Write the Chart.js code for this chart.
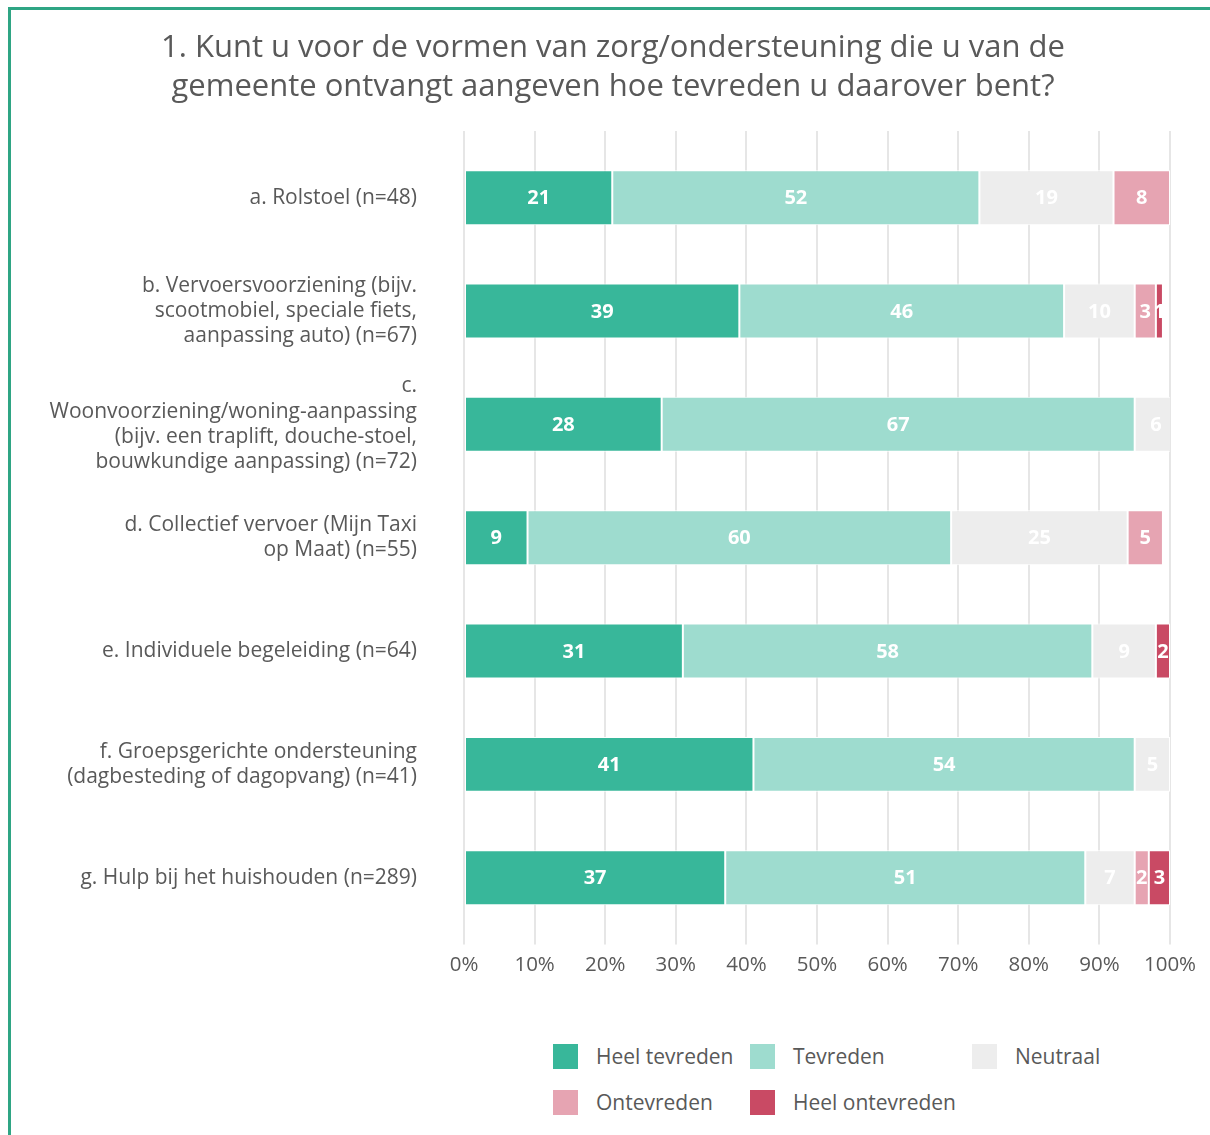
<!DOCTYPE html>
<html lang="nl">
<head>
<meta charset="utf-8">
<title>Tevredenheid zorg/ondersteuning</title>
<script src="https://cdn.jsdelivr.net/npm/chart.js@4.4.1/dist/chart.umd.min.js"></script>
<style>
    body { margin: 0; background: #ffffff; font-family: "Open Sans", sans-serif; overflow: hidden; }
    .frame {
        position: absolute; left: 8px; top: 7px; width: 1300px; height: 1300px;
        border: 3px solid #2fa584; pointer-events: none;
    }
    .title {
        position: absolute; left: 113px; top: 26px; width: 1000px;
        text-align: center; font-size: 31px; line-height: 39px; color: #595959;
    }
    #chart-wrap { position: absolute; left: 0; top: 0; width: 1210px; height: 1000px; }
    .legend {
        position: absolute; left: 553px; top: 1033px;
        display: grid; grid-template-columns: 197px 222px 200px; grid-auto-rows: 46px;
        font-size: 21px; color: #595959;
    }
    .legend-item { display: flex; align-items: center; }
    .legend-box { width: 25px; height: 25px; margin-right: 18px; flex: none; }
</style>
</head>
<body>
<div id="chart-wrap"><canvas id="chart"></canvas></div>
<div class="title">1. Kunt u voor de vormen van zorg/ondersteuning die u van de<br>gemeente ontvangt aangeven hoe tevreden u daarover bent?</div>
<div class="legend" id="legend"></div>
<div class="frame"></div>
<script>
    // Categories (multi-line labels) and answers per category, in percent
    const categories = [
        ['a. Rolstoel (n=48)'],
        ['b. Vervoersvoorziening (bijv.', 'scootmobiel, speciale fiets,', 'aanpassing auto) (n=67)'],
        ['c.', 'Woonvoorziening/woning-aanpassing', '(bijv. een traplift, douche-stoel,', 'bouwkundige aanpassing) (n=72)'],
        ['d. Collectief vervoer (Mijn Taxi', 'op Maat) (n=55)'],
        ['e. Individuele begeleiding (n=64)'],
        ['f. Groepsgerichte ondersteuning', '(dagbesteding of dagopvang) (n=41)'],
        ['g. Hulp bij het huishouden (n=289)']
    ];
    const seriesNames = ['Heel tevreden', 'Tevreden', 'Neutraal', 'Ontevreden', 'Heel ontevreden'];
    const heelTevreden   = [21, 39, 28, 9, 31, 41, 37];
    const tevreden       = [52, 46, 67, 60, 58, 54, 51];
    const neutraal       = [19, 10, 6, 25, 9, 5, 7];
    const ontevreden     = [8, 3, 0, 5, 0, 0, 2];
    const heelOntevreden = [0, 1, 0, 0, 2, 0, 3];
    const xTicks = [0, 10, 20, 30, 40, 50, 60, 70, 80, 90, 100];

    const colors = ['#38b79a', '#9edccf', '#ededed', '#e6a4b2', '#c94a64'];
    const textGray = '#595959';
    const gridGray = '#e6e6e6';
    const fontFamily = '"Open Sans", sans-serif';

    const seriesValues = [heelTevreden, tevreden, neutraal, ontevreden, heelOntevreden];

    // Value labels in the middle of each segment
    const segmentLabels = {
        id: 'segmentLabels',
        afterDatasetsDraw(chart) {
            const ctx = chart.ctx;
            ctx.save();
            ctx.font = 'bold 20px ' + fontFamily;
            ctx.fillStyle = '#ffffff';
            ctx.textAlign = 'center';
            ctx.textBaseline = 'middle';
            chart.data.datasets.forEach((ds, i) => {
                const meta = chart.getDatasetMeta(i);
                meta.data.forEach((bar, j) => {
                    const v = ds.data[j];
                    if (!v) return;
                    ctx.fillText(String(v), (bar.x + bar.base) / 2, bar.y + 1);
                });
            });
            ctx.restore();
        }
    };

    const ctx = document.getElementById('chart').getContext('2d');
    new Chart(ctx, {
        type: 'bar',
        data: {
            labels: categories,
            datasets: seriesNames.map((name, i) => ({
                label: name,
                data: seriesValues[i],
                backgroundColor: colors[i],
                borderColor: '#ffffff',
                borderWidth: 1,
                borderSkipped: false,
                barPercentage: 0.485,
                categoryPercentage: 1
            }))
        },
        options: {
            indexAxis: 'y',
            responsive: true,
            maintainAspectRatio: false,
            animation: false,
            layout: { padding: { left: 0, right: 40, top: 131, bottom: 15 } },
            plugins: {
                legend: { display: false },
                tooltip: { enabled: false }
            },
            scales: {
                x: {
                    stacked: true,
                    min: 0,
                    max: 100,
                    afterBuildTicks: (scale) => { scale.ticks = xTicks.map(v => ({ value: v })); },
                    grid: { color: gridGray, lineWidth: 2, tickLength: 10 },
                    border: { display: false },
                    ticks: {
                        color: textGray,
                        padding: 8,
                        font: { family: fontFamily, size: 20.5 },
                        callback: (v) => v + '%'
                    }
                },
                x2: {
                    position: 'top',
                    min: 0,
                    max: 100,
                    afterBuildTicks: (scale) => { scale.ticks = xTicks.map(v => ({ value: v })); },
                    grid: { color: gridGray, lineWidth: 2, tickLength: 10, drawOnChartArea: false },
                    border: { display: false },
                    ticks: { display: false }
                },
                y: {
                    stacked: true,
                    grid: { display: false, drawTicks: false },
                    border: { display: false },
                    afterFit: (scale) => { scale.width = 464; },
                    ticks: {
                        color: textGray,
                        padding: 47,
                        font: { family: fontFamily, size: 21, lineHeight: 1.21 }
                    }
                }
            }
        },
        plugins: [segmentLabels]
    });

    // Legend in three columns
    const legend = document.getElementById('legend');
    seriesNames.forEach((name, i) => {
        const item = document.createElement('div');
        item.className = 'legend-item';
        item.innerHTML = `<span class="legend-box" style="background:${colors[i]}"></span><span>${name}</span>`;
        legend.appendChild(item);
    });
</script>
</body>
</html>
